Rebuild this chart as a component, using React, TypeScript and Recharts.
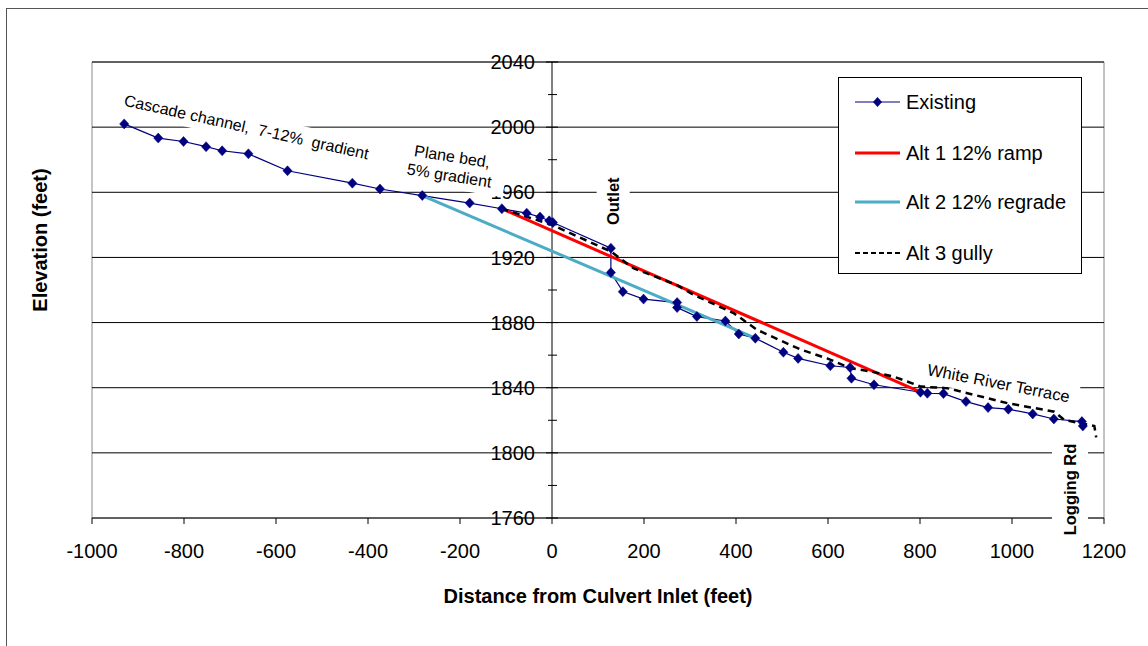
import React from 'react';
import {
  LineChart,
  Line,
  XAxis,
  YAxis,
  ReferenceLine,
  ReferenceDot,
  ReferenceArea,
  Legend,
  Customized,
} from 'recharts';

const FONT = '"Liberation Sans", Arial, Helvetica, sans-serif';

// ---------- data ----------
const xTicks = [-1000, -800, -600, -400, -200, 0, 200, 400, 600, 800, 1000, 1200];
const yTicks = [1760, 1800, 1840, 1880, 1920, 1960, 2000, 2040];
const yMinorTicks = [1780, 1820, 1860, 1900, 1940, 1980, 2020];

const existingDistance = [
  -930, -856, -801, -752, -717, -660, -575, -434, -374, -282,
  -179, -109, -55, -26, -6, 2, 128, 128, 154, 199,
  272, 272, 315, 377, 406, 442, 503, 535, 605, 648,
  651, 700, 801, 816, 851, 900, 948, 992, 1045, 1091,
  1152, 1154,
];
const existingElevation = [
  2002, 1993.3, 1991.2, 1988, 1985.5, 1983.6, 1973.2, 1965.6, 1962, 1958,
  1953.4, 1949.9, 1947.2, 1944.8, 1942.5, 1941.4, 1925.7, 1910.7, 1899, 1894.4,
  1892.3, 1889.2, 1883.7, 1881, 1873, 1870.4, 1861.8, 1858, 1853.5, 1852.4,
  1845.8, 1841.8, 1837.2, 1836.6, 1836.4, 1831.5, 1827.8, 1826.8, 1823.9, 1820.8,
  1819.2, 1816.5,
];

const alt1Distance = [-110, 800];
const alt1Elevation = [1950, 1837.5];

const alt2Distance = [-282, 442];
const alt2Elevation = [1958, 1870.4];

const alt3Distance = [
  -110, 0, 128, 177, 272, 308, 395, 446, 540, 598,
  649, 693, 743, 802, 860, 990, 1092, 1114, 1179, 1183,
];
const alt3Elevation = [
  1950, 1940, 1923.6, 1913.4, 1903, 1897, 1885.8, 1875.5, 1863.5, 1858,
  1852, 1850, 1846.8, 1840.7, 1839.7, 1830.5, 1825.3, 1820.2, 1816.5, 1809.5,
];

const zip = (xs: number[], ys: number[]) => xs.map((x, i) => ({ x, y: ys[i] }));

const existingData = zip(existingDistance, existingElevation);
const alt1Data = zip(alt1Distance, alt1Elevation);
const alt2Data = zip(alt2Distance, alt2Elevation);
const alt3Data = zip(alt3Distance, alt3Elevation);

const seriesNames = ['Existing', 'Alt 1 12% ramp', 'Alt 2 12% regrade', 'Alt 3 gully'];

// annotation texts, anchored in data coordinates
const annotations = [
  { lines: ['Cascade channel,  7-12%  gradient'], x: -664, y: 2000.2 },
  { lines: ['Plane bed,', '5% gradient'], x: -220, y: 1976.3 },
  { lines: ['Outlet'], x: 133, y: 1954.5 },
  { lines: ['White River Terrace'], x: 971, y: 1843 },
  { lines: ['Logging Rd'], x: 1126, y: 1777.5 },
];
// styles for annotations (same order)
const annotationStyles = [
  { angle: 12.5, size: 16, bold: false, w: 262, h: 26 },
  { angle: 9, size: 16, bold: false, w: 112, h: 46 },
  { angle: -90, size: 16.5, bold: true, w: 56, h: 33 },
  { angle: 11, size: 16.5, bold: false, w: 162, h: 28 },
  { angle: -90, size: 16.5, bold: true, w: 106, h: 36 },
];

// ---------- styles ----------
const COLORS = {
  existing: '#000080',
  alt1: '#ff0000',
  alt2: '#4bacc6',
  alt3: '#000000',
};

const Diamond = (p: any) => {
  const { cx, cy, index } = p;
  if (cx == null || cy == null) return <g key={`dm${index}`} />;
  return (
    <path
      key={`dm${index}`}
      d={`M${cx},${cy - 5}L${cx + 4.6},${cy}L${cx},${cy + 5}L${cx - 4.6},${cy}Z`}
      fill={COLORS.existing}
      stroke={COLORS.existing}
      strokeWidth={0.5}
    />
  );
};

const YMajorTick = (p: any) => {
  const { cx, cy, value } = p;
  return (
    <g>
      <line x1={cx - 6} x2={cx + 6} y1={cy} y2={cy} stroke="#000" strokeWidth={1} />
      <text
        x={cx - 17}
        y={cy}
        dy="0.36em"
        textAnchor="end"
        fontFamily={FONT}
        fontSize={20}
        fill="#000"
      >
        {value}
      </text>
    </g>
  );
};

const YMinorTick = (p: any) => {
  const { cx, cy } = p;
  return <line x1={cx - 4} x2={cx + 5} y1={cy} y2={cy} stroke="#000" strokeWidth={1} />;
};

const Annotation = (p: any) => {
  const { cx, cy, ann, st } = p;
  const n = ann.lines.length;
  const lh = st.size * 1.2;
  return (
    <g transform={`translate(${cx},${cy}) rotate(${st.angle})`}>
      <rect x={-st.w / 2} y={-st.h / 2} width={st.w} height={st.h} fill="#fff" />
      <text
        textAnchor="middle"
        fontFamily={FONT}
        fontSize={st.size}
        fontWeight={st.bold ? 'bold' : 'normal'}
        fill="#000"
      >
        {ann.lines.map((l: string, i: number) => (
          <tspan key={i} x={0} y={(i - (n - 1) / 2) * lh} dy="0.36em" xmlSpace="preserve">
            {l}
          </tspan>
        ))}
      </text>
    </g>
  );
};

const LegendBox = () => {
  const rows = [
    { name: seriesNames[0], color: COLORS.existing, width: 1.2, dash: undefined, marker: true },
    { name: seriesNames[1], color: COLORS.alt1, width: 3, dash: undefined, marker: false },
    { name: seriesNames[2], color: COLORS.alt2, width: 3, dash: undefined, marker: false },
    { name: seriesNames[3], color: COLORS.alt3, width: 2, dash: '5 3', marker: false },
  ];
  const rowY = [25, 76, 125, 176];
  return (
    <svg width={244} height={197} style={{ display: 'block', background: '#fff' }}>
      <rect x={0.5} y={0.5} width={243} height={196} fill="#fff" stroke="#000" strokeWidth={1} />
      {rows.map((r, i) => (
        <g key={r.name}>
          <line
            x1={17}
            x2={62}
            y1={rowY[i]}
            y2={rowY[i]}
            stroke={r.color}
            strokeWidth={r.width}
            strokeDasharray={r.dash}
          />
          {r.marker && (
            <path
              d={`M39.5,${rowY[i] - 5}L44,${rowY[i]}L39.5,${rowY[i] + 5}L35,${rowY[i]}Z`}
              fill={r.color}
            />
          )}
          <text x={68} y={rowY[i]} dy="0.36em" fontFamily={FONT} fontSize={20} fill="#000">
            {r.name}
          </text>
        </g>
      ))}
    </svg>
  );
};

const YTitle = () => (
  <text
    transform="translate(40,240) rotate(-90)"
    textAnchor="middle"
    dy="0.36em"
    fontFamily={FONT}
    fontSize={20}
    fontWeight="bold"
    fill="#000"
  >
    Elevation (feet)
  </text>
);

export default function App() {
  return (
    <div style={{ position: 'absolute', left: 0, top: 0, width: 1148, height: 646, background: '#fff' }}>
      <div
        style={{
          position: 'absolute',
          left: 6,
          top: 8,
          width: 1142,
          height: 638,
          borderLeft: '1px solid #555',
          borderTop: '1px solid #555',
        }}
      />
      <div style={{ position: 'absolute', left: 0, top: 0 }}>
        <LineChart
          width={1148}
          height={646}
          margin={{ top: 62, right: 44, bottom: 98, left: 92 }}
          style={{ fontFamily: FONT }}
        >
          <ReferenceArea
            x1={-1000}
            x2={1200}
            y1={1760}
            y2={2040}
            fill="none"
            fillOpacity={0}
            stroke="#888"
            strokeWidth={1}
            ifOverflow="visible"
          />
          {yTicks
            .filter((t) => t !== 1760)
            .map((t) => (
              <ReferenceLine key={`g${t}`} y={t} stroke="#000" strokeWidth={1} ifOverflow="visible" />
            ))}
          <XAxis
            type="number"
            dataKey="x"
            domain={[-1000, 1200]}
            ticks={xTicks}
            interval={0}
            height={30}
            axisLine={{ stroke: '#000', strokeWidth: 1 }}
            tickLine={{ stroke: '#000' }}
            tickSize={6}
            tickMargin={20}
            tick={{ fill: '#000', fontSize: 20, fontFamily: FONT }}
            label={{
              value: 'Distance from Culvert Inlet (feet)',
              position: 'bottom',
              offset: 41,
              style: { fill: '#000', fontSize: 20, fontWeight: 'bold', fontFamily: FONT },
            }}
          />
          <YAxis
            type="number"
            dataKey="y"
            domain={[1760, 2040]}
            ticks={yTicks}
            interval={0}
            width={0}
            tick={false}
            axisLine={false}
            tickLine={false}
          />
          <ReferenceLine x={0} stroke="#000" strokeWidth={1} ifOverflow="visible" />

          <Line
            data={existingData}
            dataKey="y"
            name={seriesNames[0]}
            stroke={COLORS.existing}
            strokeWidth={1.2}
            dot={Diamond}
            activeDot={false}
            isAnimationActive={false}
          />
          <Line
            data={alt1Data}
            dataKey="y"
            name={seriesNames[1]}
            stroke={COLORS.alt1}
            strokeWidth={3}
            dot={false}
            activeDot={false}
            isAnimationActive={false}
          />
          <Line
            data={alt2Data}
            dataKey="y"
            name={seriesNames[2]}
            stroke={COLORS.alt2}
            strokeWidth={3}
            dot={false}
            activeDot={false}
            isAnimationActive={false}
          />
          <Line
            data={alt3Data}
            dataKey="y"
            name={seriesNames[3]}
            stroke={COLORS.alt3}
            strokeWidth={2.5}
            strokeDasharray="7 5"
            dot={false}
            activeDot={false}
            isAnimationActive={false}
          />

          {yMinorTicks.map((t) => (
            <ReferenceDot
              key={`mn${t}`}
              x={0}
              y={t}
              ifOverflow="visible"
              shape={(p: any) => <YMinorTick {...p} />}
            />
          ))}
          {yTicks.map((t) => (
            <ReferenceDot
              key={`mj${t}`}
              x={0}
              y={t}
              ifOverflow="visible"
              shape={(p: any) => <YMajorTick {...p} value={t} />}
            />
          ))}
          {annotations.map((a, i) => (
            <ReferenceDot
              key={`an${i}`}
              x={a.x}
              y={a.y}
              ifOverflow="visible"
              zIndex={3000}
              shape={(p: any) => <Annotation {...p} ann={a} st={annotationStyles[i]} />}
            />
          ))}
          <Customized component={YTitle} />
          <Legend
            layout="horizontal"
            verticalAlign="middle"
            align="center"
            wrapperStyle={{ left: 838, top: 77, width: 244, height: 197 }}
            content={() => <LegendBox />}
          />
        </LineChart>
      </div>
    </div>
  );
}
